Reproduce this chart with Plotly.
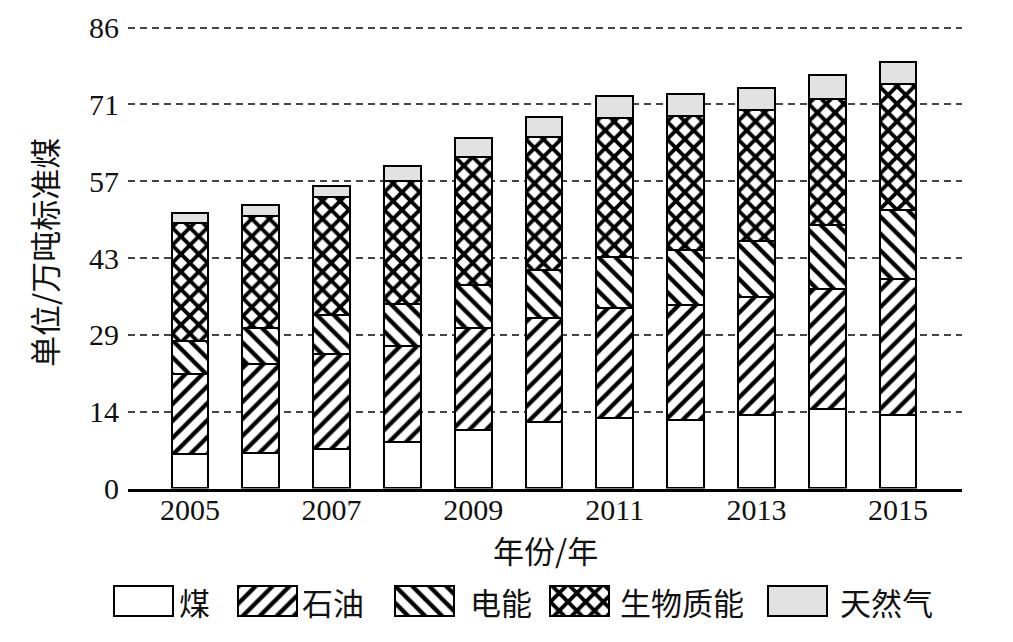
import plotly.graph_objects as go

# ---------------- data ----------------
years = [2005, 2006, 2007, 2008, 2009, 2010, 2011, 2012, 2013, 2014, 2015]
coal = [6.4, 6.6, 7.4, 8.6, 10.9, 12.3, 13.1, 12.8, 13.6, 14.7, 13.7]
oil = [15.0, 16.5, 17.7, 18.0, 18.9, 19.4, 20.6, 21.3, 22.0, 22.4, 25.4]
electric = [6.0, 6.7, 7.3, 7.7, 8.1, 9.0, 9.4, 10.3, 10.5, 12.0, 12.8]
biomass = [22.0, 21.0, 22.0, 23.0, 23.9, 24.8, 25.9, 25.1, 24.5, 23.6, 23.6]
gas = [2.0, 2.0, 2.0, 2.8, 3.5, 3.8, 4.1, 4.1, 4.1, 4.4, 4.0]

series_names = ["煤", "石油", "电能", "生物质能", "天然气"]
y_tick_values = [0, 86 / 6, 2 * 86 / 6, 3 * 86 / 6, 4 * 86 / 6, 5 * 86 / 6, 86]
y_tick_labels = ["0", "14", "29", "43", "57", "71", "86"]
x_tick_values = [2005, 2007, 2009, 2011, 2013, 2015]
x_tick_labels = ["2005", "2007", "2009", "2011", "2013", "2015"]

# ---------------- layout geometry ----------------
W, H = 1013, 642
ML, MR, MT, MB = 20, 20, 15, 15
PW = W - ML - MR
PH = H - MT - MB

PLOT_LEFT, PLOT_RIGHT = 128, 962        # px of main plot area
AXIS_Y, TOP86_Y = 488.5, 27.5           # px of value 0 and value 86
PXU = (AXIS_Y - TOP86_Y) / 86
Y_MAX = 86.6
plot_top_px = AXIS_Y - Y_MAX * PXU


def fy(py):
    return (H - MB - py) / PH


def fx(px):
    return (px - ML) / PW


styles = [
    dict(color="white", pattern=dict(shape="")),
    dict(color="white", pattern=dict(shape="/", fgcolor="black", bgcolor="white", size=12, solidity=0.36)),
    dict(color="white", pattern=dict(shape="\\", fgcolor="black", bgcolor="white", size=12, solidity=0.36)),
    dict(color="white", pattern=dict(shape="x", fgcolor="black", bgcolor="white", size=12.5, solidity=0.52)),
    dict(color="#e2e2e2", pattern=dict(shape="")),
]
outline = dict(color="black", width=2.5)

fig = go.Figure()
values = [coal, oil, electric, biomass, gas]
for name, vals, st in zip(series_names, values, styles):
    fig.add_trace(go.Bar(
        x=years, y=vals, name=name, width=0.52,
        marker=dict(color=st["color"], pattern=st["pattern"], line=outline),
        showlegend=False, hoverinfo="skip",
    ))

# ---------------- custom legend (swatches on helper axes, pixel units) ----------------
legend_box_centers = [143, 267, 424, 579, 797]
legend_text_left = [177, 300, 468, 618, 838]
for name, st, cx in zip(series_names, styles, legend_box_centers):
    fig.add_trace(go.Bar(
        x=[cx], y=[1], width=[59], xaxis="x2", yaxis="y2",
        marker=dict(color=st["color"], pattern=st["pattern"], line=outline),
        showlegend=False, hoverinfo="skip",
    ))

annotations = []
for name, tx in zip(series_names, legend_text_left):
    annotations.append(dict(
        x=tx, y=0.5, xref="x2", yref="y2", text=name, showarrow=False,
        xanchor="left", yanchor="middle",
        font=dict(family="Noto Sans CJK SC", size=31, color="#111"),
    ))

annotations.append(dict(
    x=fx((PLOT_LEFT + PLOT_RIGHT) / 2), y=fy(549), xref="paper", yref="paper",
    text="年份/年", showarrow=False, xanchor="center", yanchor="middle",
    font=dict(family="Noto Sans CJK SC", size=31, color="#111"),
))
annotations.append(dict(
    x=fx(44), y=fy(253), xref="paper", yref="paper", text="单位/万吨标准煤",
    showarrow=False, textangle=-90, xanchor="center", yanchor="middle",
    font=dict(family="Noto Sans CJK SC", size=31, color="#111"),
))

fig.update_layout(
    template="none",
    width=W, height=H,
    margin=dict(l=ML, r=MR, t=MT, b=MB, pad=0, autoexpand=False),
    paper_bgcolor="white", plot_bgcolor="white",
    barmode="stack", bargap=0,
    font=dict(family="Liberation Serif", size=30, color="#111"),
    xaxis=dict(
        domain=[fx(PLOT_LEFT), fx(PLOT_RIGHT)], range=[2004.124, 2015.904],
        tickvals=x_tick_values, ticktext=x_tick_labels,
        showgrid=False, zeroline=False, ticks="", automargin=False,
        showline=True, linecolor="black", linewidth=2.5,
        ticklabelstandoff=-7,
        tickfont=dict(family="Liberation Serif", size=30, color="#111"),
        anchor="y",
    ),
    yaxis=dict(
        domain=[fy(AXIS_Y), fy(plot_top_px)], range=[0, Y_MAX],
        tickvals=y_tick_values, ticktext=y_tick_labels,
        showgrid=True, gridcolor="#444", gridwidth=1.8, griddash="7px,5px",
        zeroline=False, showline=False, ticks="", automargin=False,
        ticklabelstandoff=8,
        tickfont=dict(family="Liberation Serif", size=30, color="#111"),
        anchor="x",
    ),
    xaxis2=dict(domain=[0, 1], range=[ML, W - MR], visible=False, anchor="y2",
                fixedrange=True, automargin=False),
    yaxis2=dict(domain=[fy(617.8), fy(584.2)], range=[-0.06, 1.06], visible=False,
                anchor="x2", fixedrange=True, automargin=False),
    annotations=annotations,
    showlegend=False,
)

fig.write_html("out.html")
